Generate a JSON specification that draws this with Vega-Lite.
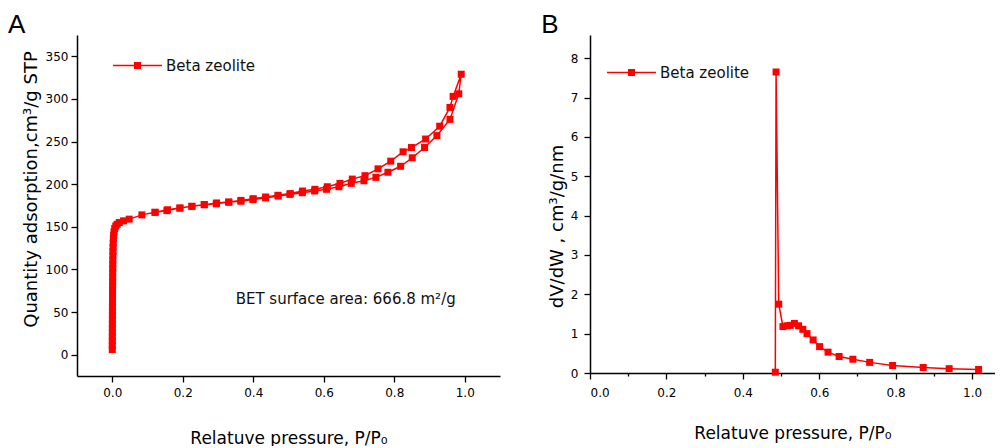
{
  "$schema": "https://vega.github.io/schema/vega-lite/v6.json",
  "background": "white",
  "padding": {"left": 8, "top": 12, "right": 0, "bottom": 0},
  "spacing": 41,
  "resolve": {"scale": {"color": "independent"}, "legend": {"color": "independent"}},
  "config": {
    "view": {"stroke": null},
    "axis": {
      "labelFont": "DejaVu Sans", "titleFont": "DejaVu Sans",
      "labelFontSize": 12, "titleFontSize": 17, "titleFontWeight": "normal",
      "domainColor": "black", "tickColor": "black", "labelColor": "black", "titleColor": "black",
      "grid": false, "domainWidth": 1.5, "tickWidth": 1.3, "labelOverlap": false
    },
    "legend": {"labelFont": "DejaVu Sans", "labelFontSize": 15, "labelColor": "#111"},
    "title": {"font": "Liberation Sans", "fontSize": 26, "fontWeight": "normal", "color": "black", "anchor": "start", "frame": "bounds"}
  },
  "datasets": {
    "iso": [
      {"i": 1, "p": 0.0001, "q": 6}, {"i": 2, "p": 0.0001, "q": 11}, {"i": 3, "p": 0.0002, "q": 16},
      {"i": 4, "p": 0.0002, "q": 21}, {"i": 5, "p": 0.0003, "q": 26}, {"i": 6, "p": 0.0003, "q": 31},
      {"i": 7, "p": 0.0004, "q": 36}, {"i": 8, "p": 0.0004, "q": 41}, {"i": 9, "p": 0.0005, "q": 46},
      {"i": 10, "p": 0.0005, "q": 51}, {"i": 11, "p": 0.0006, "q": 56}, {"i": 12, "p": 0.0006, "q": 61},
      {"i": 13, "p": 0.0007, "q": 66}, {"i": 14, "p": 0.0008, "q": 71}, {"i": 15, "p": 0.0008, "q": 76},
      {"i": 16, "p": 0.0009, "q": 81}, {"i": 17, "p": 0.001, "q": 86}, {"i": 18, "p": 0.0011, "q": 91},
      {"i": 19, "p": 0.0012, "q": 96}, {"i": 20, "p": 0.0013, "q": 101}, {"i": 21, "p": 0.0014, "q": 106},
      {"i": 22, "p": 0.0016, "q": 111}, {"i": 23, "p": 0.0018, "q": 116}, {"i": 24, "p": 0.002, "q": 121},
      {"i": 25, "p": 0.0023, "q": 126}, {"i": 26, "p": 0.0027, "q": 131}, {"i": 27, "p": 0.0032, "q": 136},
      {"i": 28, "p": 0.004, "q": 140}, {"i": 29, "p": 0.005, "q": 144}, {"i": 30, "p": 0.007, "q": 148},
      {"i": 31, "p": 0.010, "q": 151}, {"i": 32, "p": 0.014, "q": 153}, {"i": 33, "p": 0.020, "q": 155},
      {"i": 34, "p": 0.032, "q": 157}, {"i": 35, "p": 0.048, "q": 159}, {"i": 36, "p": 0.084, "q": 164},
      {"i": 37, "p": 0.121, "q": 167}, {"i": 38, "p": 0.155, "q": 169}, {"i": 39, "p": 0.192, "q": 172},
      {"i": 40, "p": 0.226, "q": 174}, {"i": 41, "p": 0.261, "q": 176}, {"i": 42, "p": 0.295, "q": 177},
      {"i": 43, "p": 0.331, "q": 179}, {"i": 44, "p": 0.365, "q": 180}, {"i": 45, "p": 0.399, "q": 182},
      {"i": 46, "p": 0.435, "q": 184}, {"i": 47, "p": 0.471, "q": 186}, {"i": 48, "p": 0.504, "q": 188},
      {"i": 49, "p": 0.539, "q": 190}, {"i": 50, "p": 0.574, "q": 192}, {"i": 51, "p": 0.608, "q": 194},
      {"i": 52, "p": 0.643, "q": 197}, {"i": 53, "p": 0.678, "q": 201}, {"i": 54, "p": 0.714, "q": 204},
      {"i": 55, "p": 0.748, "q": 208}, {"i": 56, "p": 0.782, "q": 214}, {"i": 57, "p": 0.818, "q": 221},
      {"i": 58, "p": 0.851, "q": 231}, {"i": 59, "p": 0.886, "q": 243}, {"i": 60, "p": 0.921, "q": 257},
      {"i": 61, "p": 0.958, "q": 276}, {"i": 62, "p": 0.983, "q": 306}, {"i": 63, "p": 0.990, "q": 329},
      {"i": 64, "p": 0.967, "q": 303}, {"i": 65, "p": 0.958, "q": 290}, {"i": 66, "p": 0.929, "q": 268},
      {"i": 67, "p": 0.889, "q": 253}, {"i": 68, "p": 0.849, "q": 243}, {"i": 69, "p": 0.825, "q": 238},
      {"i": 70, "p": 0.790, "q": 227}, {"i": 71, "p": 0.754, "q": 218}, {"i": 72, "p": 0.717, "q": 210},
      {"i": 73, "p": 0.681, "q": 206}, {"i": 74, "p": 0.646, "q": 201}, {"i": 75, "p": 0.610, "q": 197},
      {"i": 76, "p": 0.575, "q": 194}, {"i": 77, "p": 0.540, "q": 192}, {"i": 78, "p": 0.505, "q": 189},
      {"i": 79, "p": 0.470, "q": 187}, {"i": 80, "p": 0.435, "q": 185}, {"i": 81, "p": 0.400, "q": 183},
      {"i": 82, "p": 0.365, "q": 181}, {"i": 83, "p": 0.330, "q": 179}, {"i": 84, "p": 0.296, "q": 178},
      {"i": 85, "p": 0.261, "q": 176}, {"i": 86, "p": 0.226, "q": 174}, {"i": 87, "p": 0.192, "q": 172},
      {"i": 88, "p": 0.157, "q": 170}, {"i": 89, "p": 0.122, "q": 167}
    ],
    "pore": [
      {"w": 0.485, "d": 0.02}, {"w": 0.487, "d": 7.65}, {"w": 0.494, "d": 1.75},
      {"w": 0.505, "d": 1.18}, {"w": 0.516, "d": 1.20}, {"w": 0.524, "d": 1.21},
      {"w": 0.535, "d": 1.26}, {"w": 0.546, "d": 1.20}, {"w": 0.557, "d": 1.11},
      {"w": 0.568, "d": 1.00}, {"w": 0.584, "d": 0.84}, {"w": 0.601, "d": 0.67},
      {"w": 0.623, "d": 0.53}, {"w": 0.652, "d": 0.42}, {"w": 0.688, "d": 0.35},
      {"w": 0.732, "d": 0.27}, {"w": 0.792, "d": 0.19}, {"w": 0.872, "d": 0.14},
      {"w": 0.940, "d": 0.11}, {"w": 1.017, "d": 0.09}
    ]
  },
  "hconcat": [
    {
      "width": 423,
      "height": 341,
      "title": {"text": "A", "offset": -3, "dx": -14},
      "layer": [
        {
          "data": {"values": [{"label": "BET surface area: 666.8 m²/g"}]},
          "mark": {"type": "text", "align": "left", "baseline": "middle", "font": "DejaVu Sans", "fontSize": 15, "color": "#111"},
          "encoding": {
            "x": {
              "datum": 0.35, "type": "quantitative",
              "scale": {"domain": [-0.1, 1.1], "nice": false, "zero": false},
              "axis": {
                "title": "Relatuve pressure, P/P₀",
                "values": [0, 0.1, 0.2, 0.3, 0.4, 0.5, 0.6, 0.7, 0.8, 0.9, 1.0, 1.1],
                "labelExpr": "round(datum.value*10) % 2 == 0 ? format(datum.value, '.1f') : ''",
                "tickSize": {"condition": {"test": "round(datum.value*10) % 2 == 0", "value": 6}, "value": 3},
                "labelOverlap": false,
                "labelPadding": 5,
                "titlePadding": 32
              }
            },
            "y": {
              "datum": 65, "type": "quantitative",
              "scale": {"domain": [-25, 375], "nice": false, "zero": false},
              "axis": {
                "title": "Quantity adsorption,cm³/g STP",
                "titleFontSize": 18,
                "values": [0, 25, 50, 75, 100, 125, 150, 175, 200, 225, 250, 275, 300, 325, 350, 375],
                "labelExpr": "round(datum.value) % 50 == 0 ? format(datum.value, 'd') : ''",
                "tickSize": {"condition": {"test": "round(datum.value) % 50 == 0", "value": 6}, "value": 3},
                "labelOverlap": false,
                "labelPadding": 3,
                "titlePadding": 5,
                "titleY": 154
              }
            },
            "text": {"field": "label"}
          }
        },
        {
          "data": {"name": "iso"},
          "mark": {"type": "line", "color": "#ff0000", "strokeWidth": 1.5},
          "encoding": {
            "x": {"field": "p", "type": "quantitative"},
            "y": {"field": "q", "type": "quantitative"},
            "order": {"field": "i"}
          }
        },
        {
          "data": {"name": "iso"},
          "mark": {"type": "point", "shape": "square", "filled": true, "size": 49, "opacity": 1},
          "encoding": {
            "x": {"field": "p", "type": "quantitative"},
            "y": {"field": "q", "type": "quantitative"},
            "color": {
              "datum": "Beta zeolite",
              "scale": {"range": ["#ff0000"]},
              "legend": {
                "title": null,
                "orient": "none",
                "legendX": 53,
                "legendY": 23,
                "symbolType": "M-7,-0.22H7V0.22H-7Z M-1,-1H1V1H-1Z",
                "symbolSize": 49,
                "symbolStrokeWidth": 0,
                "labelOffset": 21
              }
            }
          }
        }
      ]
    },
    {
      "width": 405,
      "height": 338,
      "title": {"text": "B", "offset": -3, "dx": -7},
      "data": {"name": "pore"},
      "layer": [
        {
          "mark": {"type": "line", "color": "#ff0000", "strokeWidth": 1.5},
          "encoding": {
            "x": {"field": "w", "type": "quantitative"},
            "y": {"field": "d", "type": "quantitative"}
          }
        },
        {
          "mark": {"type": "point", "shape": "square", "filled": true, "size": 49, "opacity": 1},
          "encoding": {
            "x": {
              "field": "w", "type": "quantitative",
              "scale": {"domain": [0, 1.06], "nice": false, "zero": false},
              "axis": {
                "title": "Relatuve pressure, P/P₀",
                "values": [0, 0.1, 0.2, 0.3, 0.4, 0.5, 0.6, 0.7, 0.8, 0.9, 1.0],
                "labelExpr": "round(datum.value*10) % 2 == 0 ? format(datum.value, '.1f') : ''",
                "tickSize": {"condition": {"test": "round(datum.value*10) % 2 == 0", "value": 6}, "value": 3},
                "labelOverlap": false,
                "labelPadding": 8,
                "titlePadding": 27
              }
            },
            "y": {
              "field": "d", "type": "quantitative",
              "scale": {"domain": [0, 8.59], "nice": false, "zero": false},
              "axis": {
                "title": "dV/dW , cm³/g/nm",
                "titleFontSize": 18,
                "values": [0, 0.5, 1, 1.5, 2, 2.5, 3, 3.5, 4, 4.5, 5, 5.5, 6, 6.5, 7, 7.5, 8, 8.5],
                "labelExpr": "datum.value == round(datum.value) ? datum.label : ''",
                "tickSize": {"condition": {"test": "datum.value == round(datum.value)", "value": 6}, "value": 3},
                "labelOverlap": false,
                "labelPadding": 6,
                "titlePadding": 4,
                "titleY": 191
              }
            },
            "color": {
              "datum": "Beta zeolite",
              "scale": {"range": ["#ff0000"]},
              "legend": {
                "title": null,
                "orient": "none",
                "legendX": 34,
                "legendY": 30,
                "symbolType": "M-7,-0.22H7V0.22H-7Z M-1,-1H1V1H-1Z",
                "symbolSize": 49,
                "symbolStrokeWidth": 0,
                "labelOffset": 21
              }
            }
          }
        }
      ]
    }
  ]
}
